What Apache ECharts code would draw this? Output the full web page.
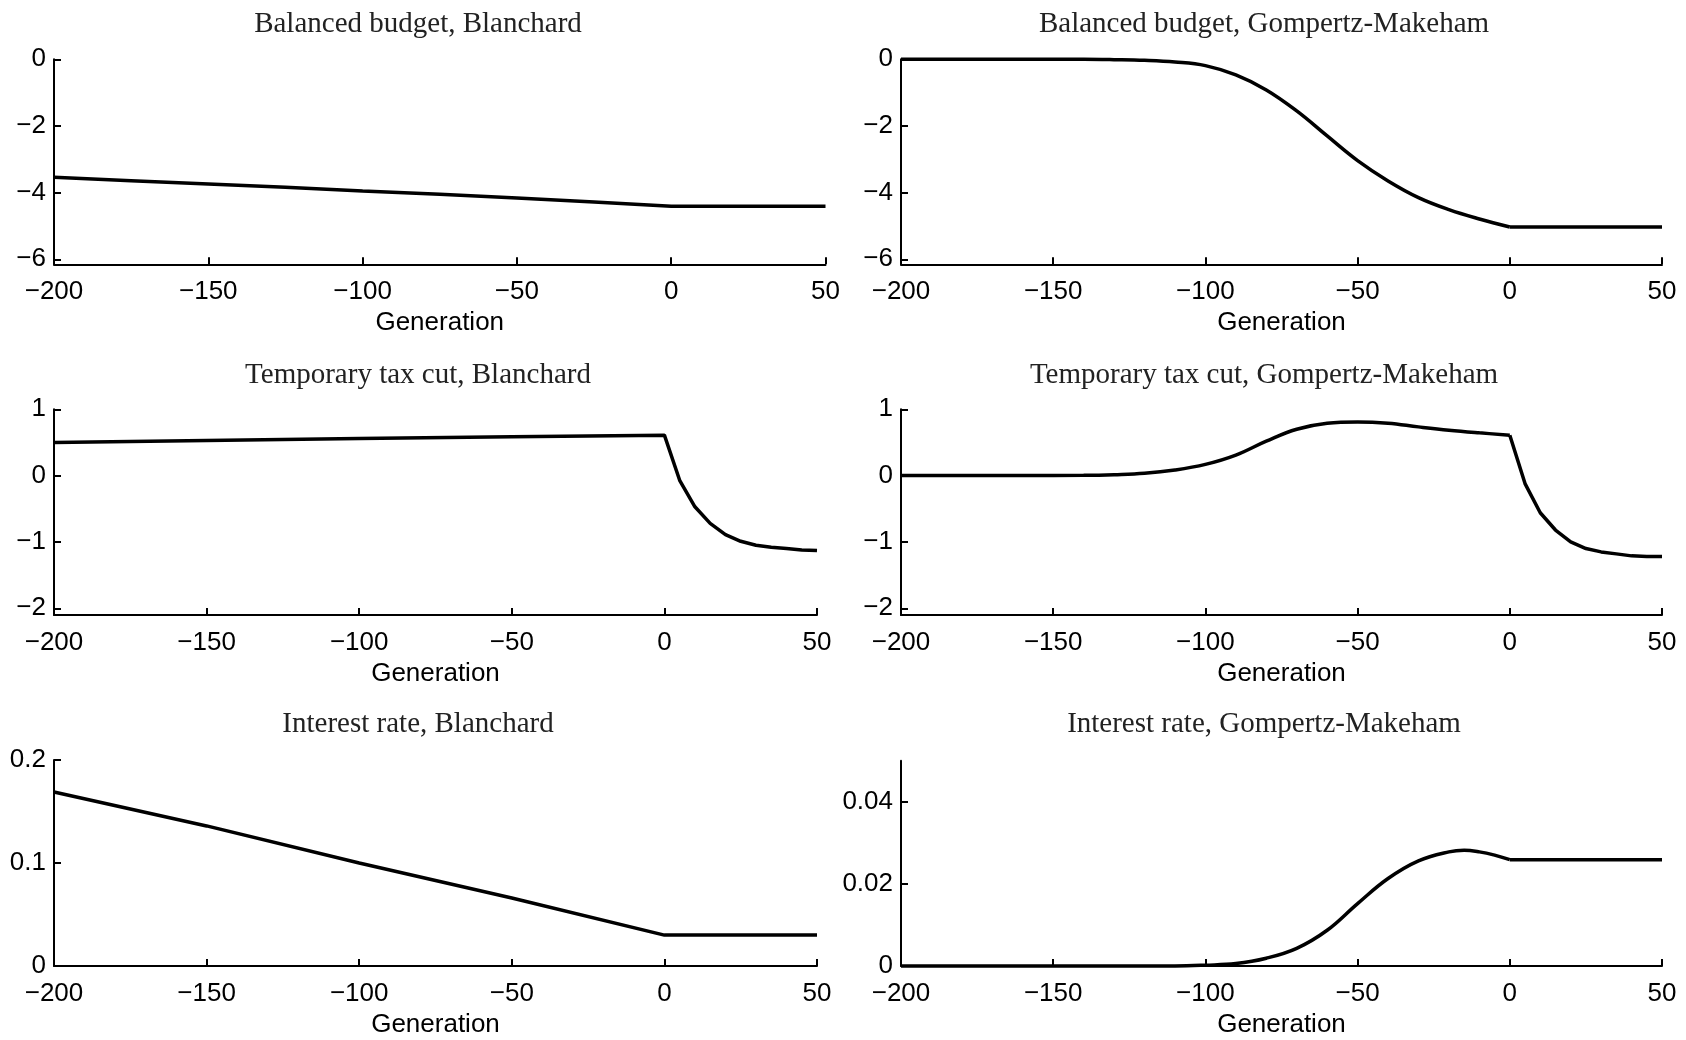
<!DOCTYPE html>
<html>
<head>
<meta charset="utf-8">
<title>Balanced budget, tax cut and interest rate by generation</title>
<script src="https://cdn.jsdelivr.net/npm/echarts@6/dist/echarts.min.js"></script>
<style>
  html, body { margin: 0; padding: 0; background: #fff; }
  #chart { width: 1686px; height: 1040px; }
</style>
</head>
<body>
<div id="chart"></div>
<script>
// values, generation on x
const genBudgetBlanchard = [-200, -175, -150, -125, -100, -75, -50, -25, 0, 25, 50];
const budgetBlanchard = [-3.54, -3.64, -3.74, -3.84, -3.95, -4.05, -4.16, -4.28, -4.41, -4.41, -4.41];

const genBudgetGMPre = [-200, -160, -140, -130, -120, -110, -100, -90, -80, -70, -60, -50, -40, -30, -20, -10, 0];
const budgetGMPre = [0, 0, 0, -0.01, -0.03, -0.08, -0.19, -0.47, -0.92, -1.55, -2.30, -3.04, -3.65, -4.15, -4.51, -4.79, -5.03];
const genBudgetGMPost = [0, 25, 50];
const budgetGMPost = [-5.03, -5.03, -5.03];

const genTaxBlanchard = [-200, -150, -100, -50, 0, 5, 10, 15, 20, 25, 30, 35, 40, 45, 50];
const taxBlanchard = [0.50, 0.53, 0.56, 0.585, 0.61, -0.07, -0.47, -0.72, -0.89, -0.99, -1.05, -1.08, -1.10, -1.12, -1.13];

const genTaxGMPre = [-200, -160, -140, -130, -120, -110, -100, -90, -80, -70, -60, -50, -40, -30, -20, -10, 0];
const taxGMPre = [0, 0, 0.005, 0.015, 0.035, 0.085, 0.17, 0.31, 0.52, 0.70, 0.79, 0.81, 0.79, 0.735, 0.685, 0.645, 0.61];
const genTaxGMPost = [0, 5, 10, 15, 20, 25, 30, 35, 40, 45, 50];
const taxGMPost = [0.61, -0.12, -0.56, -0.82, -1.00, -1.10, -1.15, -1.18, -1.21, -1.22, -1.22];

const genRateBlanchard = [-200, -150, -100, -50, 0, 25, 50];
const rateBlanchard = [0.169, 0.136, 0.1, 0.066, 0.03, 0.03, 0.03];

const genRateGMPre = [-200, -150, -120, -110, -100, -90, -80, -70, -60, -50, -40, -30, -20, -15, -10, -5, 0];
const rateGMPre = [0, 0, 0, 0, 0.0002, 0.0006, 0.0019, 0.0043, 0.0087, 0.0152, 0.0213, 0.0256, 0.0278, 0.0282, 0.0278, 0.0270, 0.0259];
const genRateGMPost = [0, 25, 50];
const rateGMPost = [0.0259, 0.0259, 0.0259];

const titles = [
    'Balanced budget, Blanchard', 'Balanced budget, Gompertz-Makeham',
    'Temporary tax cut, Blanchard', 'Temporary tax cut, Gompertz-Makeham',
    'Interest rate, Blanchard', 'Interest rate, Gompertz-Makeham'
];
const yTicksBudget = [-6, -4, -2, 0];
const yTicksTax = [-2, -1, 0, 1];
const yTicksRateBlanchard = [0, 0.1, 0.2];
const yTicksRateGM = [0, 0.02, 0.04];

const pairs = (xs, ys) => xs.map((x, i) => [x, ys[i]]);
const fmt = v => (v < 0 ? '\u2212' + (-v) : String(v));

const grids = [
    { left: 54, top: 59.3, width: 771.5, height: 205 },
    { left: 901, top: 59.3, width: 761, height: 205 },
    { left: 54, top: 409.3, width: 763, height: 205.6 },
    { left: 901, top: 409.3, width: 761, height: 205.6 },
    { left: 54, top: 760, width: 763, height: 206 },
    { left: 901, top: 760.7, width: 761, height: 205.3 }
];
const yRanges = [[-6.15, 0], [-6.15, 0], [-2.1, 1], [-2.1, 1], [0, 0.2], [0, 0.05]];
const yTicks = [yTicksBudget, yTicksBudget, yTicksTax, yTicksTax, yTicksRateBlanchard, yTicksRateGM];

const labelFont = { fontFamily: '"Liberation Sans", Arial, sans-serif', fontSize: 26, color: '#000' };
const axisLine = { show: true, onZero: false, lineStyle: { color: '#000', width: 2 } };

const xAxes = grids.map((g, i) => ({
    type: 'value',
    gridIndex: i,
    min: -200,
    max: 50,
    interval: 50,
    name: 'Generation',
    nameLocation: 'middle',
    nameGap: 46,
    nameTextStyle: labelFont,
    axisLine: axisLine,
    axisTick: { show: true, inside: true, length: 7, lineStyle: { color: '#000', width: 2 } },
    axisLabel: Object.assign({ margin: 15, formatter: fmt }, labelFont),
    splitLine: { show: false }
}));

const yAxes = grids.map((g, i) => ({
    type: 'value',
    gridIndex: i,
    min: yRanges[i][0],
    max: yRanges[i][1],
    axisLine: axisLine,
    axisTick: { show: true, inside: true, length: 7, customValues: yTicks[i], lineStyle: { color: '#000', width: 2 } },
    axisLabel: Object.assign({ margin: 8, padding: [9, 0, 0, 0], formatter: fmt, customValues: yTicks[i] }, labelFont),
    splitLine: { show: false }
}));

const lineSeries = (idx, data, smooth) => ({
    type: 'line',
    xAxisIndex: idx,
    yAxisIndex: idx,
    data: data,
    smooth: smooth ? 0.4 : false,
    showSymbol: false,
    clip: false,
    lineStyle: { color: '#000', width: 3.5 },
    animation: false
});

const series = [
    lineSeries(0, pairs(genBudgetBlanchard, budgetBlanchard), false),
    lineSeries(1, pairs(genBudgetGMPre, budgetGMPre), true),
    lineSeries(1, pairs(genBudgetGMPost, budgetGMPost), false),
    lineSeries(2, pairs(genTaxBlanchard, taxBlanchard), false),
    lineSeries(3, pairs(genTaxGMPre, taxGMPre), true),
    lineSeries(3, pairs(genTaxGMPost, taxGMPost), false),
    lineSeries(4, pairs(genRateBlanchard, rateBlanchard), false),
    lineSeries(5, pairs(genRateGMPre, rateGMPre), true),
    lineSeries(5, pairs(genRateGMPost, rateGMPost), false)
];

const titleX = [418, 1264];
const titleY = [24.5, 375, 724.5];
const graphic = titles.map((t, i) => ({
    type: 'text',
    x: titleX[i % 2],
    y: titleY[Math.floor(i / 2)],
    style: {
        text: t,
        font: '29px "Liberation Serif", "Times New Roman", serif',
        fill: '#222',
        align: 'center',
        verticalAlign: 'middle',
        textAlign: 'center',
        textVerticalAlign: 'middle'
    }
}));

const chart = echarts.init(document.getElementById('chart'));
chart.setOption({
    backgroundColor: '#fff',
    animation: false,
    grid: grids,
    xAxis: xAxes,
    yAxis: yAxes,
    series: series,
    graphic: graphic
});
window.addEventListener('resize', () => chart.resize());
</script>
</body>
</html>
